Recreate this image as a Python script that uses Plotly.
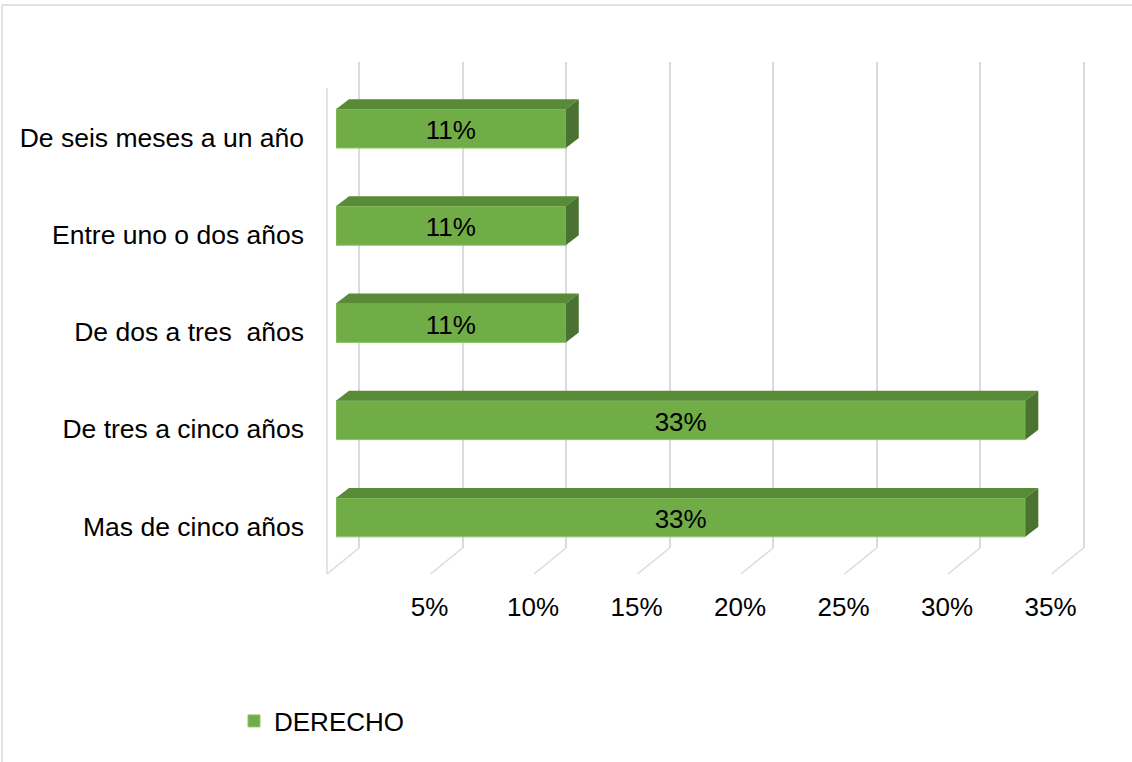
import plotly.graph_objects as go

# ---- data ----
categories = ["De seis meses a un año", "Entre uno o dos años", "De dos a tres  años",
              "De tres a cinco años", "Mas de cinco años"]
values = [0.111, 0.111, 0.111, 0.333, 0.333]
labels = ["11%", "11%", "11%", "33%", "33%"]
tick_vals = [0.05, 0.10, 0.15, 0.20, 0.25, 0.30, 0.35]
tick_text = ["5%", "10%", "15%", "20%", "25%", "30%", "35%"]
series_name = "DERECHO"

# ---- layout constants (pixels) ----
W, H = 1132, 762
XMAX = 0.35
EPS = 0.002
PX_PER_UNIT = 20.7 / 0.01          # horizontal pixels per unit value
BAR_L = 336                        # x pixel of 0 on bar plane
BAR_TOP, BAR_BOT = 80, 566         # y pixel band of categories (bar plane)
BACK_DX, BACK_DY = 23, -18         # back wall offset from bar plane
FRONT_DX, FRONT_DY = -9, 8         # front floor offset from bar plane
DEPTH_X, DEPTH_Y = 13, 10          # bar depth in pixels
BAR_W = 0.4
LABEL_DY = 4                       # data label nudge (pixels, downward)

x_len = XMAX * PX_PER_UNIT
cat_px = (BAR_BOT - BAR_TOP) / len(categories)

FONT = "Liberation Sans, Arial, sans-serif"
GREEN = "#70ad47"
TOP_C = "#588a38"
SIDE_C = "#4a7230"
GRID_C = "#d9dbe3"

ypos = list(range(len(categories)))

fig = go.Figure()

# back wall subplot (x/y) – drawn first, carries gridlines
fig.add_trace(go.Scatter(x=[None], y=[None], xaxis="x", yaxis="y",
                         showlegend=False, hoverinfo="skip"))

# bars subplot (x2/y2)
fig.add_trace(go.Bar(
    x=values, y=ypos, orientation="h", width=BAR_W,
    xaxis="x2", yaxis="y2",
    marker=dict(color=GREEN, line=dict(color="#8fc46a", width=1)),
    name=series_name, showlegend=True, hoverinfo="skip",
))
fig.add_trace(go.Scatter(
    x=[v / 2 for v in values], y=[p + LABEL_DY / cat_px for p in ypos],
    mode="text", text=labels, xaxis="x2", yaxis="y2",
    textfont=dict(family=FONT, size=26, color="#000000"),
    textposition="middle center", showlegend=False, hoverinfo="skip",
))

# 3D faces of bars
dxd = DEPTH_X / PX_PER_UNIT
dyd = DEPTH_Y / cat_px
shapes = []
for i, v in enumerate(values):
    t = i - BAR_W / 2
    b = i + BAR_W / 2
    top = f"M 0,{t} L {v},{t} L {v + dxd},{t - dyd} L {dxd},{t - dyd} Z"
    side = f"M {v},{t} L {v + dxd},{t - dyd} L {v + dxd},{b - dyd} L {v},{b} Z"
    shapes.append(dict(type="path", path=top, xref="x2", yref="y2",
                       fillcolor=TOP_C, line=dict(width=0), layer="above"))
    shapes.append(dict(type="path", path=side, xref="x2", yref="y2",
                       fillcolor=SIDE_C, line=dict(width=0), layer="above"))


def px_x(val, plane_dx):
    return (BAR_L + plane_dx + val * PX_PER_UNIT) / W


def px_y(pix):
    return 1 - pix / H


back_bot = BAR_BOT + BACK_DY
front_bot = BAR_BOT + FRONT_DY
front_top = BAR_TOP + FRONT_DY
# floor diagonals from back wall to front
for tv in [0] + tick_vals:
    shapes.append(dict(type="line", xref="paper", yref="paper",
                       x0=px_x(tv, BACK_DX), y0=px_y(back_bot),
                       x1=px_x(tv, FRONT_DX), y1=px_y(front_bot),
                       line=dict(color=GRID_C, width=1.5), layer="below"))
# left wall front edge
shapes.append(dict(type="line", xref="paper", yref="paper",
                   x0=px_x(0, FRONT_DX), y0=px_y(front_bot),
                   x1=px_x(0, FRONT_DX), y1=px_y(front_top),
                   line=dict(color=GRID_C, width=1.5), layer="below"))
# chart border
shapes.append(dict(type="line", xref="paper", yref="paper",
                   x0=2 / W, x1=1.01, y0=1 - 5 / H, y1=1 - 5 / H,
                   line=dict(color="#d9d9d9", width=1.5)))
shapes.append(dict(type="line", xref="paper", yref="paper",
                   x0=2 / W, x1=2 / W, y0=-0.01, y1=1 - 5 / H,
                   line=dict(color="#d9d9d9", width=1.5)))

fig.update_layout(
    width=W, height=H, autosize=False,
    margin=dict(l=0, r=0, t=0, b=0, pad=0),
    paper_bgcolor="white", plot_bgcolor="rgba(0,0,0,0)",
    font=dict(family=FONT, size=26, color="#000000"),
    shapes=shapes,
    # back wall
    xaxis=dict(domain=[px_x(-EPS, BACK_DX), px_x(XMAX + EPS, BACK_DX)],
               range=[-EPS, XMAX + EPS], tick0=0, dtick=0.05, showgrid=True,
               gridcolor=GRID_C, gridwidth=1.5, zeroline=False, automargin=False,
               showticklabels=False, ticks="", showline=False, anchor="y"),
    yaxis=dict(domain=[px_y(back_bot), px_y(BAR_TOP + BACK_DY)],
               range=[0, 1], showgrid=False, zeroline=False, automargin=False,
               showticklabels=False, ticks="", showline=False, anchor="x"),
    # bar plane
    xaxis2=dict(domain=[px_x(0, 0), px_x(XMAX, 0)], range=[0, XMAX],
                tickvals=tick_vals, ticktext=tick_text, showgrid=False,
                zeroline=False, showline=False, ticks="", automargin=False,
                ticklabelshift=FRONT_DX - 1, ticklabelstandoff=23,
                tickfont=dict(size=26, color="#000000"), anchor="y2"),
    yaxis2=dict(domain=[px_y(BAR_BOT), px_y(BAR_TOP)],
                range=[len(categories) - 0.5, -0.5],
                tickvals=ypos, ticktext=categories, showgrid=False,
                zeroline=False, showline=False, ticks="", automargin=False,
                ticklabelshift=-FRONT_DY - 1, ticklabelstandoff=31,
                tickfont=dict(size=26.5, color="#000000"), anchor="x2"),
    legend=dict(orientation="h", x=234 / W, y=px_y(721), xanchor="left",
                yanchor="middle", font=dict(size=26, color="#000000"),
                bgcolor="rgba(0,0,0,0)"),
    bargap=0.6,
)

fig.write_html("out.html",
               config={"displayModeBar": False, "responsive": False},
               post_script="document.body.style.margin='0';"
                           "document.body.style.overflow='hidden';")
